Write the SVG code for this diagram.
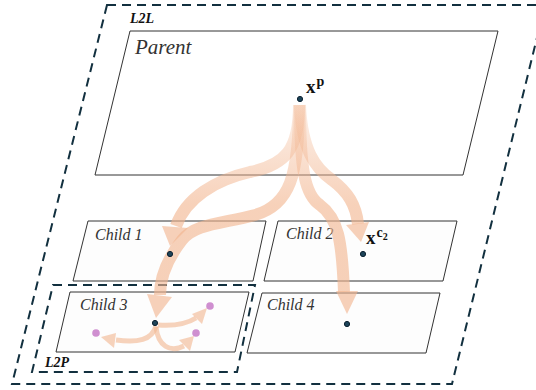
<svg xmlns="http://www.w3.org/2000/svg" width="536" height="390" viewBox="0 0 536 390">
<style>
.box{fill:#ffffff;stroke:#333;stroke-width:1}
.child{fill:#fdfdfd;stroke:#333;stroke-width:1}
.dash{fill:none;stroke:#12303f;stroke-width:2;stroke-dasharray:9 6}
.lbl{fill:#333}
.grp{font-weight:bold;fill:#111;font-size:14px}
.math{font-weight:bold;fill:#111}
.dot{fill:#1d4459;stroke:#0b2030;stroke-width:1}
.pink{fill:#cf8fd0}
.arr{fill:none;stroke:url(#fade);stroke-width:12}
.head{fill:#f2b58f;fill-opacity:0.62}
.sarr{fill:none;stroke:#f2b58f;stroke-opacity:0.6;stroke-width:5}
.shead{fill:#f2b58f;fill-opacity:0.6}
</style>
<defs>
<linearGradient id="fade" gradientUnits="userSpaceOnUse" x1="0" y1="105" x2="0" y2="205">
<stop offset="0" stop-color="#f2b58f" stop-opacity="0.2"/>
<stop offset="1" stop-color="#f2b58f" stop-opacity="0.62"/>
</linearGradient>
</defs>

<g id="L2L">
<polygon class="dash" points="107,5 545,5 452,384 12,384"/>
<text class="grp" x="130" y="23" font-family="'Liberation Serif','DejaVu Serif',serif" font-style="italic">L2L</text>
</g>

<g id="parent">
<polygon class="box" points="130,31 498,31 463,175 95,175"/>
<text class="lbl" x="135" y="54" font-size="21" font-family="'Liberation Serif','DejaVu Serif',serif" font-style="italic">Parent</text>
</g>

<g id="child1">
<polygon class="child" points="88,221 266,221 253,281 73,281"/>
<text class="lbl" x="95" y="240" font-size="16" font-family="'Liberation Serif','DejaVu Serif',serif" font-style="italic">Child 1</text>
</g>

<g id="child2">
<polygon class="child" points="278,221 457,221 443,281 264,281"/>
<text class="lbl" x="286" y="239" font-size="16" font-family="'Liberation Serif','DejaVu Serif',serif" font-style="italic">Child 2</text>
</g>

<g id="L2P">
<polygon class="dash" points="53,285 255,285 237,372 32,372"/>
<text class="grp" x="45" y="367" font-family="'Liberation Serif','DejaVu Serif',serif" font-style="italic">L2P</text>
</g>

<g id="child3">
<polygon class="child" points="70,292 249,292 235,352 56,352"/>
<text class="lbl" x="80" y="310" font-size="16" font-family="'Liberation Serif','DejaVu Serif',serif" font-style="italic">Child 3</text>
</g>

<g id="child4">
<polygon class="child" points="262,293 440,293 426,353 247,353"/>
<text class="lbl" x="267" y="310" font-size="16" font-family="'Liberation Serif','DejaVu Serif',serif" font-style="italic">Child 4</text>
</g>

<g id="connectors">
<path class="arr" d="M299,105 C299,150 285,165 250,172 C215,180 186,198 176,226"/>
<polygon class="head" points="162,226 188,228 170,246"/>
<path class="arr" d="M299,105 C299,175 290,205 255,215 C220,224 195,224 182,240 C168,258 160,278 160,295"/>
<polygon class="head" points="147,294 172,297 156,318"/>
<path class="arr" d="M300,105 C302,150 315,168 332,180 C348,192 356,205 358,224"/>
<polygon class="head" points="346,225 369,222 361,242"/>
<path class="arr" d="M300,105 C300,170 305,195 320,205 C338,218 342,240 344,292"/>
<polygon class="head" points="336,291 358,291 347,314"/>
<path class="sarr" d="M156,326 C152,340 138,343 116,340"/>
<polygon class="shead" points="101,337 116,333 114,348"/>
<path class="sarr" d="M158,325 C172,326 185,325 196,318"/>
<polygon class="shead" points="207,308 192,314 202,324"/>
<path class="sarr" d="M156,327 C158,346 170,353 184,346"/>
<polygon class="shead" points="194,336 179,340 190,351"/>
</g>

<g id="points">
<circle class="dot" cx="300" cy="99" r="2.6"/>
<text class="math" x="306" y="93" font-size="19" font-family="'Liberation Serif','DejaVu Serif',serif">x<tspan font-size="14" dx="1" dy="-7">p</tspan></text>
<circle class="dot" cx="170" cy="254" r="2.6"/>
<circle class="dot" cx="363" cy="254" r="2.6"/>
<text class="math" x="366" y="244" font-size="19" font-family="'Liberation Serif','DejaVu Serif',serif">x<tspan font-size="14" dx="1" dy="-7">c</tspan><tspan font-size="10" dy="3">2</tspan></text>
<circle class="dot" cx="155" cy="323" r="2.6"/>
<circle class="dot" cx="347" cy="324" r="2.6"/>
<circle class="pink" cx="96" cy="333" r="3.8"/>
<circle class="pink" cx="210" cy="306" r="3.8"/>
<circle class="pink" cx="196" cy="333" r="3.8"/>
</g>
</svg>
